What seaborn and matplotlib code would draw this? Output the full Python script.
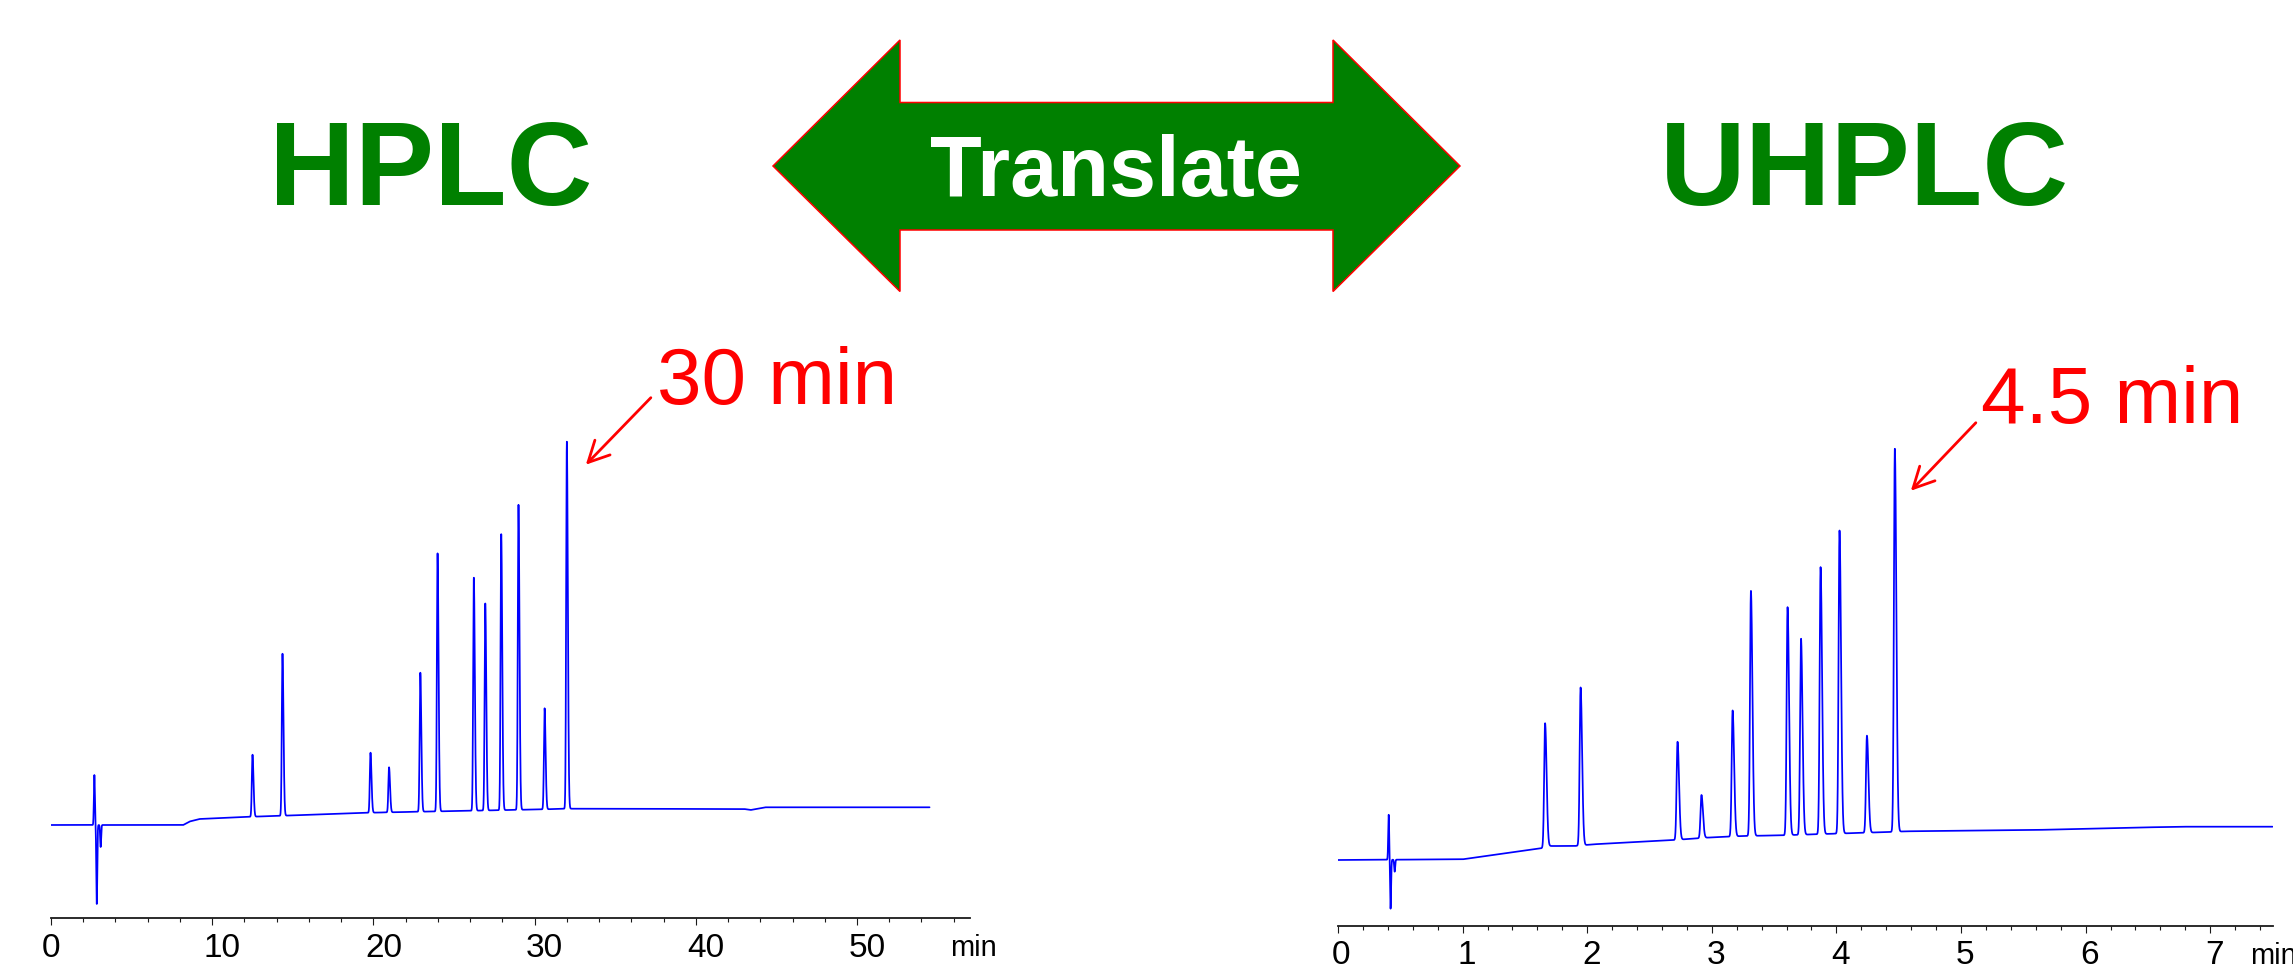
import numpy as np
import pandas as pd
import matplotlib
matplotlib.use("Agg")
import matplotlib.pyplot as plt
import matplotlib.transforms as mtransforms
from matplotlib.patches import Polygon
from matplotlib.ticker import MultipleLocator
import seaborn as sns

# ---------------- HPLC run (time in min, detector response) ----------------
hplc_rt = [12.50, 14.36, 19.82, 20.97, 22.91, 23.98, 26.23, 26.94, 27.93, 29.00, 30.62, 32.00]
hplc_height = [62, 162, 60, 45, 139, 258, 233, 207, 276, 305, 101, 367]
hplc_inj_rt = [2.69, 2.84, 3.08]
hplc_inj_height = [50, -79, -22]
hplc_base_t = [0.0, 8.2, 8.6, 9.2, 12.5, 14.4, 19.8, 22.9, 26.2, 30.6, 32.0, 43.0, 43.4, 44.3, 54.5]
hplc_base_v = [0.0, 0.0, 3.5, 6.0, 8.3, 9.3, 12.3, 13.3, 14.3, 15.7, 16.3, 16.0, 15.0, 17.7, 17.7]
hplc_ticks = [0, 10, 20, 30, 40, 50]

# ---------------- UHPLC run ----------------
uhplc_rt = [1.662, 1.947, 2.725, 2.917, 3.167, 3.314, 3.608, 3.716, 3.873, 4.025, 4.245, 4.469]
uhplc_height = [124, 158, 98, 43, 126, 245, 228, 196, 267, 303, 97, 383]
uhplc_inj_rt = [0.407, 0.422, 0.455]
uhplc_inj_height = [45, -49, -12]
uhplc_base_t = [0.0, 1.0, 1.63, 1.70, 1.90, 2.05, 2.70, 2.95, 3.25, 3.57, 3.90, 4.42, 4.56, 5.59, 6.35, 6.76, 7.5]
uhplc_base_v = [0.0, 0.7, 11.7, 14.0, 14.0, 15.7, 20.0, 22.3, 24.0, 24.7, 26.0, 28.0, 28.7, 30.0, 32.3, 33.3, 33.3]
uhplc_ticks = [0, 1, 2, 3, 4, 5, 6, 7]

W, H = 2293, 964

sns.set_style("white")
plt.rcParams["font.family"] = ["Liberation Sans", "DejaVu Sans"]

GREEN = "#008000"
RED = "#FF0000"
BLUE = "#0000FF"
AXIS = "#1a1a1a"


def trace(base_t, base_v, rts, heights, inj_rt, inj_h, sig_l, sig_r, sig_inj, step):
    """Detector trace: drifting baseline plus slightly tailing peaks."""
    t = np.arange(base_t[0], base_t[-1] + step / 2, step)
    t = np.union1d(t, np.concatenate([rts, inj_rt]))
    v = np.interp(t, base_t, base_v)
    for rt, h in zip(rts, heights):
        s = np.where(t < rt, sig_l, sig_r)
        v = v + h * np.exp(-0.5 * ((t - rt) / s) ** 2)
    for rt, h in zip(inj_rt, inj_h):
        v = v + h * np.exp(-0.5 * ((t - rt) / sig_inj) ** 2)
    return pd.DataFrame({"time": t, "signal": v})


def fig_xy(x, y):
    """Pixel position (from top-left) to figure fraction."""
    return x / W, 1 - y / H


fig = plt.figure(figsize=(W / 100, H / 100), dpi=100)

panels = [
    dict(left=51, spine=918, xmax=57.0, pxmin=16.12, ylim=(-93, 420),
         df=trace(hplc_base_t, hplc_base_v, hplc_rt, hplc_height, hplc_inj_rt,
                  hplc_inj_height, 0.042, 0.062, 0.03, 0.005),
         ticks=hplc_ticks, minor=2, rts=hplc_rt, hts=hplc_height,
         base_t=hplc_base_t, base_v=hplc_base_v, label_shift=(0, 10),
         label="30 min", tip=(19, -23), start=(84, 44), txt=(90, 38),
         min_pos=(0.979, -0.074)),
    dict(left=1338, spine=925.7, xmax=7.5, pxmin=124.6, ylim=(-65.7, 430),
         df=trace(uhplc_base_t, uhplc_base_v, uhplc_rt, uhplc_height, uhplc_inj_rt,
                  uhplc_inj_height, 0.0075, 0.012, 0.004, 0.0005),
         ticks=uhplc_ticks, minor=0.2, rts=uhplc_rt, hts=uhplc_height,
         base_t=uhplc_base_t, base_v=uhplc_base_v, label_shift=(3, 4),
         label="4.5 min", tip=(16, -42), start=(81, 26), txt=(86, 26),
         min_pos=(0.976, -0.0775)),
]

for p in panels:
    width_px = p["xmax"] * p["pxmin"]
    height_px = p["ylim"][1] - p["ylim"][0]
    ax = fig.add_axes([p["left"] / W, (H - p["spine"]) / H, width_px / W, height_px / H])
    ax.patch.set_alpha(0)
    sns.lineplot(data=p["df"], x="time", y="signal", ax=ax, color=BLUE,
                 lw=1.25, estimator=None, sort=False)
    ax.set_xlim(0, p["xmax"])
    ax.set_ylim(*p["ylim"])
    ax.set_xlabel("")
    ax.set_ylabel("")
    ax.set_yticks([])
    for side in ("left", "top", "right"):
        ax.spines[side].set_visible(False)
    ax.spines["bottom"].set_color(AXIS)
    ax.spines["bottom"].set_linewidth(1.3)
    ax.set_xticks(p["ticks"])
    ax.set_xticklabels([str(v) for v in p["ticks"]])
    ax.xaxis.set_minor_locator(MultipleLocator(p["minor"]))
    ax.tick_params(axis="x", which="major", direction="out", length=5, width=0.8,
                   color=AXIS, pad=5.5, labelsize=24, labelcolor="black", bottom=True)
    ax.tick_params(axis="x", which="minor", direction="out", length=3, width=0.8,
                   color=AXIS, bottom=True)
    # the instrument software sets its numbers slightly right of the tick
    for k, lab in enumerate(ax.get_xticklabels()):
        dx = p["label_shift"][0] if k == 0 else p["label_shift"][1]
        lab.set_transform(lab.get_transform() + mtransforms.Affine2D().translate(dx, 0))
    ax.text(p["min_pos"][0], p["min_pos"][1], "min", transform=ax.transAxes,
            ha="left", va="baseline", fontsize=21, color="black")

    # annotate the last-eluting (tallest) peak with the run time
    i = int(np.argmax(p["hts"]))
    rt = p["rts"][i]
    top = p["hts"][i] + np.interp(rt, p["base_t"], p["base_v"])
    tr_tip = mtransforms.offset_copy(ax.transData, fig=fig, x=p["tip"][0], y=p["tip"][1], units="dots")
    tr_start = mtransforms.offset_copy(ax.transData, fig=fig, x=p["start"][0], y=p["start"][1], units="dots")
    tr_txt = mtransforms.offset_copy(ax.transData, fig=fig, x=p["txt"][0], y=p["txt"][1], units="dots")
    ax.annotate("", xy=(rt, top), xycoords=tr_tip, xytext=(rt, top), textcoords=tr_start,
                arrowprops=dict(arrowstyle="->,head_length=0.75,head_width=0.38",
                                mutation_scale=20, color=RED, lw=2.0,
                                shrinkA=0, shrinkB=0), annotation_clip=False)
    ax.text(rt, top, p["label"], transform=tr_txt, ha="left", va="baseline",
            fontsize=57.6, color=RED)

# titles
fig.text(*fig_xy(431, 205), "HPLC", ha="center", va="baseline", fontsize=85.5,
         fontweight="bold", color=GREEN)
fig.text(*fig_xy(1864, 205), "UHPLC", ha="center", va="baseline", fontsize=85.5,
         fontweight="bold", color=GREEN)

# double-headed "Translate" arrow
arrow_px = [(773, 166), (900, 40), (900, 102.5), (1333, 102.5), (1333, 40),
            (1460, 166), (1333, 291.5), (1333, 230), (900, 230), (900, 291.5)]
arrow = Polygon([fig_xy(x, y) for x, y in arrow_px], closed=True,
                transform=fig.transFigure, facecolor=GREEN, edgecolor=RED, lw=1.1)
fig.patches.append(arrow)
fig.text(*fig_xy(1116, 196), "Translate", ha="center", va="baseline", fontsize=61,
         fontweight="bold", color="white")

fig.savefig("out.png", dpi=100)
